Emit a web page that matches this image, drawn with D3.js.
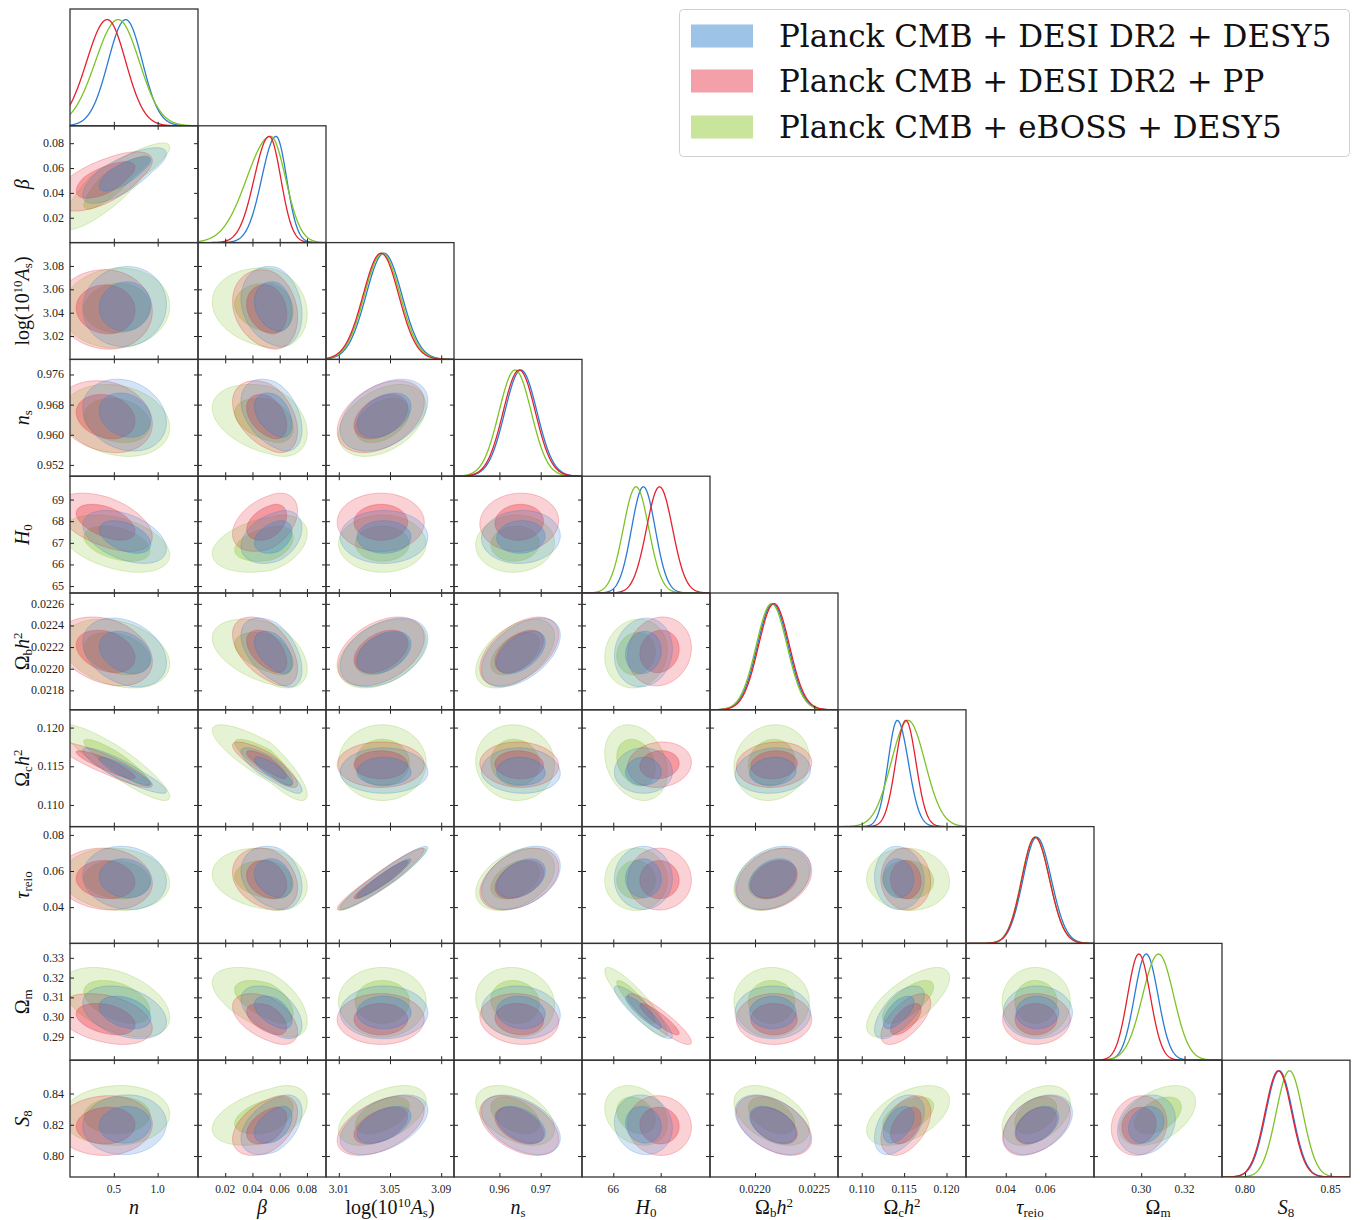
<!DOCTYPE html>
<html><head><meta charset="utf-8">
<script src="https://cdn.jsdelivr.net/npm/d3@7"></script>
<style>body{margin:0;background:#fff}</style>
</head><body>
<svg id="chart" width="1360" height="1220"></svg>
<script>
// ---------------- data ----------------
const paramKeys = ["n","beta","As","ns","H0","ombh2","omch2","tau","Om","S8"];
const axisMin = [0, 0, 3.0, 0.949, 64.68, 0.02162, 0.1072, 0.0199, 0.2782, 0.7866];
const axisMax = [1.46, 0.094, 3.1, 0.980, 70.08, 0.0227, 0.1223, 0.0846, 0.3373, 0.8613];

const xTicks = [[0.5,1.0],[0.02,0.04,0.06,0.08],[3.01,3.05,3.09],[0.96,0.97],[66,68],[0.0220,0.0225],[0.110,0.115,0.120],[0.04,0.06],[0.30,0.32],[0.80,0.85]];
const xTickLabels = [["0.5","1.0"],["0.02","0.04","0.06","0.08"],["3.01","3.05","3.09"],["0.96","0.97"],["66","68"],["0.0220","0.0225"],["0.110","0.115","0.120"],["0.04","0.06"],["0.30","0.32"],["0.80","0.85"]];
const yTicks = [[],[0.02,0.04,0.06,0.08],[3.02,3.04,3.06,3.08],[0.952,0.960,0.968,0.976],[65,66,67,68,69],[0.0218,0.0220,0.0222,0.0224,0.0226],[0.110,0.115,0.120],[0.04,0.06,0.08],[0.29,0.30,0.31,0.32,0.33],[0.80,0.82,0.84]];
const yTickLabels = [[],["0.02","0.04","0.06","0.08"],["3.02","3.04","3.06","3.08"],["0.952","0.960","0.968","0.976"],["65","66","67","68","69"],["0.0218","0.0220","0.0222","0.0224","0.0226"],["0.110","0.115","0.120"],["0.04","0.06","0.08"],["0.29","0.30","0.31","0.32","0.33"],["0.80","0.82","0.84"]];

const seriesNames = ["Planck CMB + DESI DR2 + DESY5","Planck CMB + DESI DR2 + PP","Planck CMB + eBOSS + DESY5"];

// series 1 (blue): peak position, lower / upper widths
const blueMode  = [0.635, 0.0573, 3.0453, 0.9652, 67.27, 0.02215, 0.1142, 0.0556, 0.3023, 0.8200];
const blueSigLo = [0.20, 0.0105, 0.0140, 0.0039, 0.50, 0.00013, 0.0011, 0.0069, 0.0054, 0.0078];
const blueSigHi = [0.19, 0.0078, 0.0140, 0.0039, 0.50, 0.00013, 0.0013, 0.0074, 0.0055, 0.0078];
// series 2 (red)
const redMode  = [0.425, 0.0523, 3.0430, 0.9648, 67.95, 0.02216, 0.1152, 0.0548, 0.2989, 0.8195];
const redSigLo = [0.235, 0.0110, 0.0140, 0.0039, 0.55, 0.00013, 0.0012, 0.0067, 0.0052, 0.0078];
const redSigHi = [0.21, 0.0085, 0.0138, 0.0039, 0.55, 0.00013, 0.0012, 0.0073, 0.0053, 0.0078];
// series 3 (green)
const greenMode  = [0.55, 0.0533, 3.0440, 0.9638, 66.96, 0.02214, 0.11547, 0.0548, 0.3080, 0.8260];
const greenSigLo = [0.26, 0.0175, 0.0140, 0.0039, 0.54, 0.00013, 0.0020, 0.0068, 0.0074, 0.0078];
const greenSigHi = [0.24, 0.0110, 0.0140, 0.0039, 0.54, 0.00013, 0.0020, 0.0073, 0.0070, 0.0078];

// correlations (lower triangle, row i vs columns 0..i-1)
const blueCorr = [[],
 [0.75],
 [0.05,-0.2],
 [-0.2,-0.4,0.4],
 [-0.45,0.35,0.0,0.05],
 [-0.3,-0.5,0.4,0.5,0.1],
 [-0.9,-0.85,0.0,-0.05,0.0,0.1],
 [-0.1,-0.25,0.95,0.4,0.0,0.3,-0.05],
 [-0.35,-0.5,0.0,-0.1,-0.9,0.0,0.65,0.0],
 [0.05,0.45,0.5,-0.45,-0.1,-0.45,0.45,0.4,0.2]];
const redCorr = [[],
 [0.65],
 [-0.05,-0.2],
 [-0.2,-0.4,0.4],
 [-0.5,0.4,0.0,0.05],
 [-0.3,-0.5,0.4,0.5,0.1],
 [-0.9,-0.85,0.0,-0.05,0.1,0.1],
 [-0.1,-0.25,0.95,0.4,0.0,0.3,-0.05],
 [-0.35,-0.5,0.0,-0.1,-0.9,0.0,0.65,0.0],
 [0.05,0.45,0.5,-0.45,-0.05,-0.45,0.45,0.4,0.1]];
const greenCorr = [[],
 [0.87],
 [0.05,-0.15],
 [-0.2,-0.35,0.4],
 [-0.4,0.35,0.0,0.05],
 [-0.3,-0.45,0.4,0.5,0.1],
 [-0.9,-0.85,0.0,-0.05,-0.25,0.1],
 [-0.1,-0.2,0.95,0.4,0.0,0.3,-0.05],
 [-0.45,-0.55,0.0,-0.1,-0.9,0.0,0.7,0.0],
 [0.05,0.45,0.5,-0.45,-0.25,-0.45,0.5,0.4,0.45]];

const contourLevels = [0.95, 0.68];

// axis labels: [text, style] style: i=italic, u=upright, sub, sup
const axisLabels = [
 [["n","i"]],
 [["β","i"]],
 [["log(10","u"],["10","sup"],["A","i"],["s","sub"],[")","u"]],
 [["n","i"],["s","sub"]],
 [["H","i"],["0","sub"]],
 [["Ω","u"],["b","sub"],["h","i"],["2","sup"]],
 [["Ω","u"],["c","sub"],["h","i"],["2","sup"]],
 [["τ","i"],["reio","sub"]],
 [["Ω","u"],["m","sub"]],
 [["S","i"],["8","sub"]]
];

// ---------------- styling ----------------
const X0 = 70, Y0 = 9, CW = 128, CH = 116.8, NP = paramKeys.length;
const lineColors = ["#2a7bd3","#e5202e","#7dc325"];
const fillColors = ["#3a86d4","#e62f3b","#89c537"];
const legendColors = ["#9dc3e6","#f4a0a8","#c9e49b"];
const outerAlpha = 0.22, innerAlpha = 0.34;
const tickFont = "'Liberation Serif', 'DejaVu Serif', serif";

const series = [
 {mode: blueMode, lo: blueSigLo, hi: blueSigHi, corr: blueCorr},
 {mode: redMode, lo: redSigLo, hi: redSigHi, corr: redCorr},
 {mode: greenMode, lo: greenSigLo, hi: greenSigHi, corr: greenCorr}
];

const svg = d3.select("#chart");
const defs = svg.append("defs");

function xScale(j){ return d3.scaleLinear().domain([axisMin[j],axisMax[j]]).range([X0+j*CW, X0+(j+1)*CW]); }
function yScale(i){ return d3.scaleLinear().domain([axisMin[i],axisMax[i]]).range([Y0+(i+1)*CH, Y0+i*CH]); }

function contourPoints(s, j, i, level){
  const r = Math.sqrt(-2*Math.log(1-level));
  const rho = s.corr[i][j];
  const c = Math.sqrt(1-rho*rho);
  const pts = [];
  for (let k=0;k<240;k++){
    const t = 2*Math.PI*k/240;
    const u = Math.cos(t), v = rho*Math.cos(t) + c*Math.sin(t);
    pts.push([s.mode[j] + r*u*(u<0?s.lo[j]:s.hi[j]), s.mode[i] + r*v*(v<0?s.lo[i]:s.hi[i])]);
  }
  return pts;
}

for (let i=0;i<NP;i++){
  for (let j=0;j<=i;j++){
    const xs = xScale(j);
    const px = X0+j*CW, py = Y0+i*CH;
    const cid = `clip-${i}-${j}`;
    defs.append("clipPath").attr("id",cid).append("rect").attr("x",px).attr("y",py).attr("width",CW).attr("height",CH);
    const g = svg.append("g");
    const plot = g.append("g").attr("clip-path",`url(#${cid})`);
    if (i===j){
      const ys = d3.scaleLinear().domain([0,1.1]).range([py+CH, py]);
      const xsamp = d3.range(0,401).map(k=>axisMin[j]+(axisMax[j]-axisMin[j])*k/400);
      [0,2,1].forEach(si=>{
        const s = series[si];
        const pts = xsamp.map(x=>{ const sg = x<s.mode[j]?s.lo[j]:s.hi[j]; const z=(x-s.mode[j])/sg; return [x, Math.exp(-0.5*z*z)]; });
        plot.append("path").attr("d", d3.line().x(p=>xs(p[0])).y(p=>ys(p[1]))(pts))
          .attr("fill","none").attr("stroke",lineColors[si]).attr("stroke-width",1.3);
      });
      g.append("g").attr("transform",`translate(0,${py+CH})`)
        .call(d3.axisBottom(xs).tickValues(xTicks[j]).tickSize(-4).tickFormat(""))
        .call(a=>a.select(".domain").remove());
    } else {
      const ys = yScale(i);
      const line = d3.line().x(p=>xs(p[0])).y(p=>ys(p[1])).curve(d3.curveLinearClosed);
      [2,1,0].forEach(si=>{
        const s = series[si];
        contourLevels.forEach((lv,li)=>{
          plot.append("path").attr("d", line(contourPoints(s,j,i,lv)))
            .attr("fill",fillColors[si]).attr("fill-opacity", li===0?outerAlpha:innerAlpha)
            .attr("stroke",lineColors[si]).attr("stroke-opacity",0.28).attr("stroke-width",0.9);
        });
      });
      g.append("g").attr("transform",`translate(0,${py+CH})`).call(d3.axisBottom(xs).tickValues(xTicks[j]).tickSize(-4).tickFormat("")).call(a=>a.select(".domain").remove());
      g.append("g").attr("transform",`translate(0,${py})`).call(d3.axisTop(xs).tickValues(xTicks[j]).tickSize(-4).tickFormat("")).call(a=>a.select(".domain").remove());
      g.append("g").attr("transform",`translate(${px},0)`).call(d3.axisLeft(ys).tickValues(yTicks[i]).tickSize(-4).tickFormat("")).call(a=>a.select(".domain").remove());
      g.append("g").attr("transform",`translate(${px+CW},0)`).call(d3.axisRight(ys).tickValues(yTicks[i]).tickSize(-4).tickFormat("")).call(a=>a.select(".domain").remove());
    }
    g.append("rect").attr("x",px).attr("y",py).attr("width",CW).attr("height",CH)
      .attr("fill","none").attr("stroke","#333").attr("stroke-width",1.3);
  }
}
svg.selectAll(".tick line").attr("stroke","#222").attr("stroke-width",1);

// bottom tick labels
for (let j=0;j<NP;j++){
  const xs = xScale(j);
  svg.append("g").selectAll("text").data(xTicks[j]).join("text")
    .attr("x",d=>xs(d)).attr("y",1193)
    .attr("text-anchor","middle").attr("font-family",tickFont).attr("font-size",11.5).attr("fill","#222")
    .text((d,k)=>xTickLabels[j][k]);
}
// left tick labels
for (let i=1;i<NP;i++){
  const ys = yScale(i);
  svg.append("g").selectAll("text").data(yTicks[i]).join("text")
    .attr("x",X0-6).attr("y",d=>ys(d)+4)
    .attr("text-anchor","end").attr("font-family",tickFont).attr("font-size",12).attr("fill","#222")
    .text((d,k)=>yTickLabels[i][k]);
}

function writeLabel(t, parts){
  const fs = 20;
  let shift = 0;
  parts.forEach(([txt,st])=>{
    const ts = t.append("tspan").text(txt);
    let target = 0, size = fs;
    if (st==="sub"){ target = 3; size = 13; }
    if (st==="sup"){ target = -7; size = 13; }
    ts.attr("font-size",size).attr("dy", target-shift);
    shift = target;
    if (st==="i") ts.attr("font-style","italic");
  });
}
// x axis labels
for (let j=0;j<NP;j++){
  const t = svg.append("text").attr("x",X0+(j+0.5)*CW).attr("y",1214)
    .attr("text-anchor","middle").attr("font-family","'Liberation Serif', serif").attr("fill","#111");
  writeLabel(t, axisLabels[j]);
}
// y axis labels
for (let i=1;i<NP;i++){
  const cy = Y0+(i+0.5)*CH;
  const t = svg.append("text").attr("transform",`translate(29,${cy}) rotate(-90)`)
    .attr("text-anchor","middle").attr("font-family","'Liberation Serif', serif").attr("fill","#111");
  writeLabel(t, axisLabels[i]);
}

// legend
const lg = svg.append("g");
lg.append("rect").attr("x",679.5).attr("y",9.5).attr("width",670).attr("height",147).attr("rx",4)
  .attr("fill","#fff").attr("stroke","#d0d0d0").attr("stroke-width",1);
const legY = [36, 81, 127];
seriesNames.forEach((nm,k)=>{
  lg.append("rect").attr("x",691).attr("y",legY[k]-11.5).attr("width",62).attr("height",23).attr("fill",legendColors[k]);
  lg.append("text").attr("x",779).attr("y",legY[k]+10.5).attr("font-family","'DejaVu Serif', serif")
    .attr("font-size",31).attr("fill","#111").text(nm);
});
</script>
</body></html>
